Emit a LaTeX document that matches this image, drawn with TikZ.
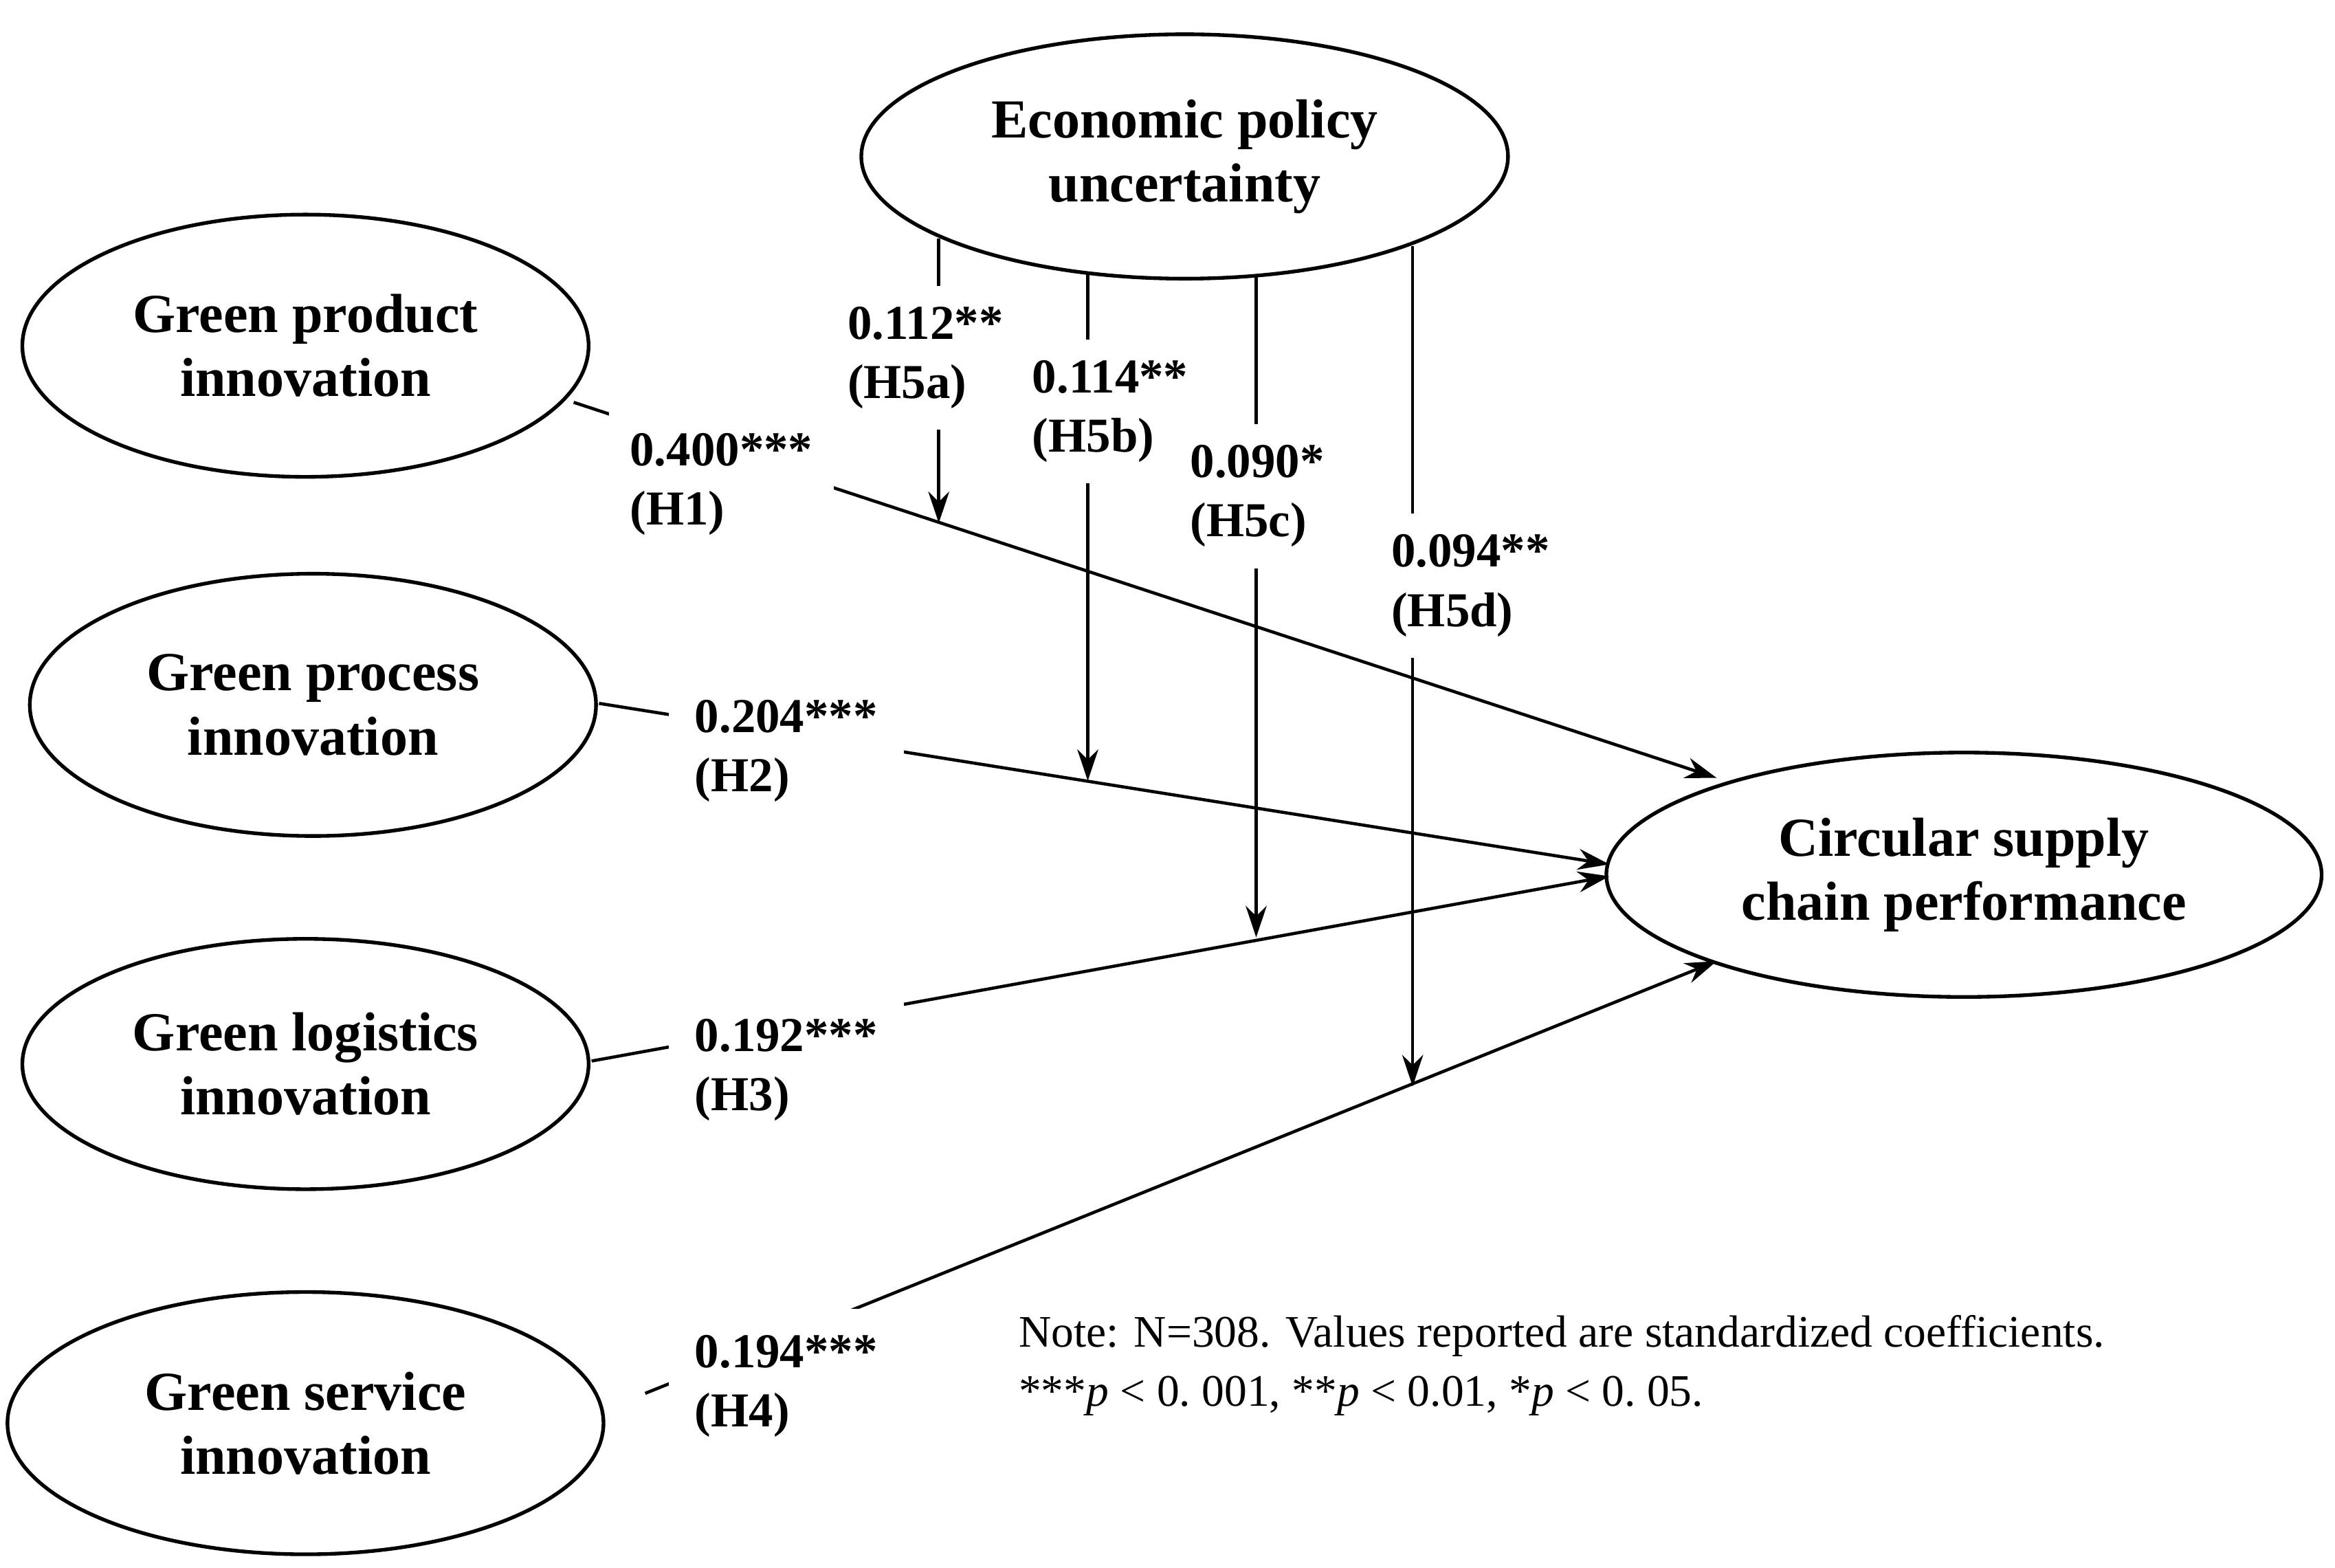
\documentclass[tikz,border=0pt]{standalone}
\usepackage{fontspec}
\setmainfont{Liberation Serif}
\usetikzlibrary{arrows.meta}
\begin{document}
\begin{tikzpicture}[x=0.01cm,y=-0.01cm,
  ell/.style={draw,line width=0.7pt},
  etext/.style={font=\fontsize{10.5}{12.2}\selectfont\bfseries,align=center},
  lab/.style={font=\fontsize{9.3}{11.3}\selectfont\bfseries,align=left,fill=white,inner sep=1pt},
  arr/.style={line width=0.6pt,-{Stealth[length=6pt,width=4pt]}},
  ln/.style={line width=0.6pt}]
\useasboundingbox (0,0) rectangle (1567,1052);
% ellipses
\draw[ell] (795,105) ellipse [x radius=217,y radius=82];
\node[etext] (epu) at (795,105) {Economic policy\\uncertainty};
\draw[ell] (205,232) ellipse [x radius=190,y radius=88];
\node[etext] (gp) at (205,232) {Green product\\innovation};
\draw[ell] (210,473) ellipse [x radius=190,y radius=88];
\node[etext] (gpr) at (210,473) {Green process\\innovation};
\draw[ell] (205,714) ellipse [x radius=190,y radius=84];
\node[etext] (gl) at (205,714) {Green logistics\\innovation};
\draw[ell] (205,955) ellipse [x radius=200,y radius=88];
\node[etext] (gs) at (205,955) {Green service\\innovation};
\draw[ell] (1318,587) ellipse [x radius=240,y radius=82];
\node[etext] (cs) at (1318,587) {Circular supply\\chain performance};
% coordinates
\coordinate (a1) at (385,270); \coordinate (b1) at (1152,522);
\coordinate (a2) at (402,472); \coordinate (b2) at (1080,580);
\coordinate (a3) at (397,712); \coordinate (b3) at (1080,588);
\coordinate (a4) at (433,935); \coordinate (b4) at (1152,645);
\coordinate (m1s) at (630,160); \coordinate (m1e) at (630,351);
\coordinate (m2s) at (730,183); \coordinate (m2e) at (730,524);
\coordinate (m3s) at (843,185); \coordinate (m3e) at (843,629);
\coordinate (m4s) at (948,165); \coordinate (m4e) at (948,729);
% paths
\draw[arr] (a1) -- (b1);
\draw[arr] (a2) -- (b2);
\draw[arr] (a3) -- (b3);
\draw[arr] (a4) -- (b4);
\draw[arr] (m1s) -- (m1e);
\draw[arr] (m2s) -- (m2e);
\draw[arr] (m3s) -- (m3e);
\draw[arr] (m4s) -- (m4e);
% labels
\node[lab,anchor=west,inner sep=4pt] (l1) at (408,325) {0.400***\\(H1)};
\node[lab,anchor=west,inner sep=5pt] (l2) at (448,504) {0.204***\\(H2)};
\node[lab,anchor=west,inner sep=5pt] (l3) at (448,718) {0.192***\\(H3)};
\node[lab,anchor=west,inner sep=5pt] (l4) at (448,930) {0.194***\\(H4)};
\node[lab,anchor=west,inner sep=4pt] (l5a) at (554,240) {0.112**\\(H5a)};
\node[lab,anchor=west,inner sep=4pt] (l5b) at (678,276) {0.114**\\(H5b)};
\node[lab,anchor=west,inner sep=4pt] (l5c) at (784,333) {0.090*\\(H5c)};
\node[lab,anchor=west,inner sep=4pt] (l5d) at (919,393) {0.094**\\(H5d)};
\node[font=\fontsize{8.6}{11.2}\selectfont,align=left,anchor=north west,inner sep=0pt] (note) at (683,882)
 {Note: N=308. Values reported are standardized coefficients.\\***\textit{p} < 0.~001, **\textit{p} < 0.01, *\textit{p} < 0.~05.};
\end{tikzpicture}
\end{document}
